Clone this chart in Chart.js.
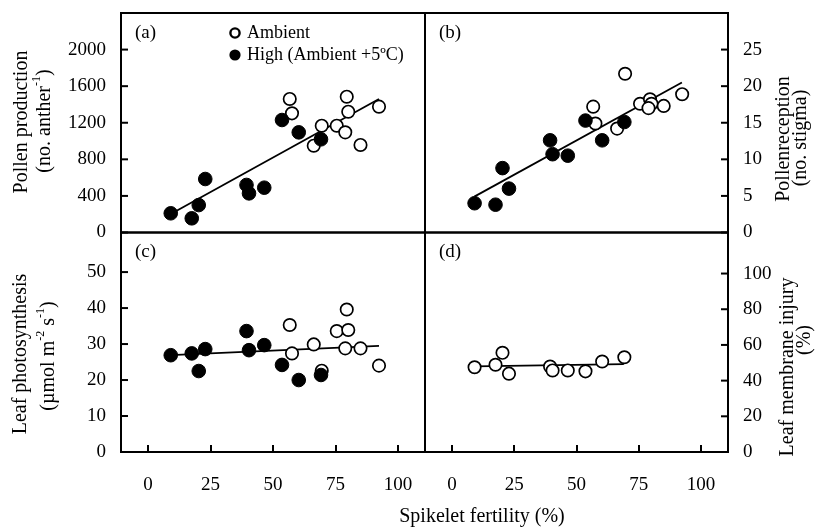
<!DOCTYPE html>
<html><head><meta charset="utf-8">
<script src="https://cdn.jsdelivr.net/npm/chart.js@4.4.1/dist/chart.umd.min.js"></script>
<style>
html,body{margin:0;padding:0;background:#fff;}
#wrap{position:relative;width:817px;height:528px;background:#fff;}
canvas{position:absolute;left:0;top:0;}
</style></head><body>
<div id="wrap">
<canvas id="ca" width="817" height="528"></canvas>
<canvas id="cb" width="817" height="528"></canvas>
<canvas id="cc" width="817" height="528"></canvas>
<canvas id="cd" width="817" height="528"></canvas>
</div>
<script>
// ---- data ----
const xTicks = [0, 25, 50, 75, 100];
const xHigh = [9.1, 17.5, 20.3, 22.9, 39.4, 40.4, 46.5, 53.6, 60.3, 69.2];
const xAmb  = [56.7, 57.6, 66.3, 69.5, 75.5, 79.5, 80.1, 78.9, 85.0, 92.4];

const pollenHigh = [210, 155, 300, 585, 520, 428, 490, 1230, 1095, 1019];
const pollenAmb  = [1460, 1303, 949, 1168, 1168, 1485, 1321, 1095, 957, 1376];
const yTicksA = [0, 400, 800, 1200, 1600, 2000];
const fitAx = [9.1, 92.4], fitAy = [202, 1460];

const receptHigh = [4.0, 3.8, 8.8, 6.0, 12.6, 10.7, 10.5, 15.3, 12.6, 15.1];
const receptAmb  = [17.2, 14.9, 14.2, 21.7, 17.6, 18.2, 17.6, 17.0, 17.3, 18.9];
const yTicksB = [0, 5, 10, 15, 20, 25];
const fitBx = [9.0, 92.3], fitBy = [4.9, 20.5];

const photoHigh = [26.9, 27.4, 22.5, 28.6, 33.6, 28.3, 29.7, 24.2, 20.0, 21.4];
const photoAmb  = [35.3, 27.4, 29.9, 22.6, 33.6, 39.6, 33.9, 28.8, 28.8, 24.0];
const yTicksC = [0, 10, 20, 30, 40, 50];
const fitCx = [9.1, 92.4], fitCy = [26.9, 29.5];

const injury = [47.5, 48.9, 55.6, 43.9, 47.9, 45.7, 45.7, 45.2, 50.7, 53.1];
const yTicksD = [0, 20, 40, 60, 80, 100];
const fitDx = [9.0, 69.0], fitDy = [48.0, 49.2];

const labelAmb = 'Ambient';
const labelHigh = 'High (Ambient +5\u00BAC)';

// ---- helpers ----
const FONT = "'Liberation Serif','Times New Roman',serif";
const pts = (xs, ys) => xs.map((x, i) => ({x: x, y: ys[i]}));

function highDs(xs, ys) {
  return {label: labelHigh, data: pts(xs, ys), pointStyle: 'circle', pointRadius: 6.8,
    backgroundColor: '#000', borderColor: '#000', borderWidth: 1, showLine: false};
}
function ambDs(xs, ys) {
  return {label: labelAmb, data: pts(xs, ys), pointStyle: 'circle', pointRadius: 6.2,
    backgroundColor: '#fff', borderColor: '#000', borderWidth: 1.7, showLine: false};
}
function fitDs(xs, ys) {
  return {label: 'fit', data: pts(xs, ys), showLine: true, pointRadius: 0,
    borderColor: '#000', borderWidth: 1.8, fill: false};
}

function zeroPad(s) { s.paddingTop = 0; s.paddingBottom = 0; s.paddingLeft = 0; s.paddingRight = 0; }

const framePlugin = {
  id: 'frame',
  afterDraw(chart, args, opts) {
    const ctx = chart.ctx, a = chart.chartArea;
    ctx.save();
    ctx.strokeStyle = '#000';
    ctx.lineWidth = 2;
    ctx.lineCap = 'butt';
    ctx.strokeRect(a.left, a.top, a.right - a.left, a.bottom - a.top);
    if (opts.xTicks) {
      const sx = chart.scales.x;
      xTicks.forEach(v => {
        const p = Math.round(sx.getPixelForValue(v));
        ctx.beginPath(); ctx.moveTo(p, a.bottom); ctx.lineTo(p, a.bottom - 7); ctx.stroke();
      });
    }
    const sy = chart.scales.y;
    (opts.yTicks || []).forEach(v => {
      const p = sy.getPixelForValue(v);
      ctx.beginPath();
      if (opts.side === 'left') { ctx.moveTo(a.left, p); ctx.lineTo(a.left + 7, p); }
      else { ctx.moveTo(a.right, p); ctx.lineTo(a.right - 7, p); }
      ctx.stroke();
    });
    // panel letter
    ctx.fillStyle = '#000';
    ctx.font = '19px ' + FONT;
    ctx.textAlign = 'left';
    ctx.textBaseline = 'middle';
    ctx.fillText(opts.letter, a.left + 14, a.top + 20);
    // legend
    if (opts.legend) {
      const ds = chart.data.datasets;
      const lx = 235, ly = [33, 55];
      ctx.font = '18px ' + FONT;
      ctx.beginPath(); ctx.arc(lx, ly[0], 4.6, 0, Math.PI * 2);
      ctx.fillStyle = '#fff'; ctx.fill(); ctx.lineWidth = 2.4; ctx.stroke();
      ctx.fillStyle = '#000';
      ctx.fillText(ds[1].label, lx + 12, ly[0]);
      ctx.beginPath(); ctx.arc(lx, ly[1], 5.6, 0, Math.PI * 2); ctx.fill();
      ctx.fillText(ds[0].label, lx + 12, ly[1]);
    }
    (opts.titles || []).forEach(t => drawRotated(ctx, t.parts, t.x, t.y, 20));
    if (opts.xTitle) {
      ctx.font = '20px ' + FONT;
      ctx.textAlign = 'center';
      ctx.textBaseline = 'middle';
      ctx.fillText(opts.xTitle.text, opts.xTitle.x, opts.xTitle.y);
    }
    ctx.restore();
  }
};

function drawRotated(ctx, parts, cx, cy, size) {
  ctx.save();
  ctx.translate(cx, cy);
  ctx.rotate(-Math.PI / 2);
  ctx.textBaseline = 'middle';
  ctx.textAlign = 'left';
  ctx.fillStyle = '#000';
  let total = 0;
  const widths = parts.map(p => {
    ctx.font = (p.sup ? Math.round(size * 0.62) : size) + 'px ' + FONT;
    const w = ctx.measureText(p.t).width; total += w; return w;
  });
  let x = -total / 2;
  parts.forEach((p, i) => {
    ctx.font = (p.sup ? Math.round(size * 0.62) : size) + 'px ' + FONT;
    ctx.fillText(p.t, x, p.sup ? -size * 0.42 : 0);
    x += widths[i];
  });
  ctx.restore();
}

function makePanel(id, cfg) {
  return new Chart(document.getElementById(id), {
    type: 'scatter',
    data: {datasets: cfg.datasets},
    options: {
      responsive: false, animation: false, events: [],
      layout: {padding: cfg.pad},
      plugins: {legend: {display: false}, tooltip: {enabled: false}, frame: cfg.frame},
      scales: {
        x: {
          type: 'linear', position: 'bottom', min: -10.8, max: 110.8,
          afterFit: s => { s.height = cfg.xH; zeroPad(s); },
          afterBuildTicks: s => { s.ticks = xTicks.map(v => ({value: v})); },
          grid: {display: false, drawTicks: false}, border: {display: false},
          ticks: {display: cfg.xLabels, color: '#000', padding: 22, maxRotation: 0, autoSkip: false,
            font: {family: FONT, size: 19}, callback: v => String(v)}
        },
        y: {
          type: 'linear', position: cfg.yPos, min: 0, max: cfg.yMax,
          afterFit: s => { s.width = cfg.yW; zeroPad(s); },
          afterBuildTicks: s => { s.ticks = cfg.yTicks.map(v => ({value: v})); },
          grid: {display: false, drawTicks: false}, border: {display: false},
          ticks: {color: '#000', padding: 15, autoSkip: false, font: {family: FONT, size: 19},
            callback: v => String(v)}
        }
      }
    },
    plugins: [framePlugin]
  });
}

makePanel('ca', {
  datasets: [highDs(xHigh, pollenHigh), ambDs(xAmb, pollenAmb), fitDs(fitAx, fitAy)],
  pad: {left: 0, top: 13, right: 392, bottom: 295.5}, yW: 121, xH: 0,
  yPos: 'left', yMax: 2400, yTicks: yTicksA, xLabels: false,
  frame: {letter: '(a)', side: 'left', yTicks: yTicksA, legend: true,
    titles: [
      {x: 22, y: 122, parts: [{t: 'Pollen production'}]},
      {x: 45, y: 121, parts: [{t: '(no. anther'}, {t: '-1', sup: true}, {t: ')'}]}
    ]}
});
makePanel('cb', {
  datasets: [highDs(xHigh, receptHigh), ambDs(xAmb, receptAmb), fitDs(fitBx, fitBy)],
  pad: {left: 425, top: 13, right: 0, bottom: 295.5}, yW: 89, xH: 0,
  yPos: 'right', yMax: 30, yTicks: yTicksB, xLabels: false,
  frame: {letter: '(b)', side: 'right', yTicks: yTicksB,
    titles: [
      {x: 784, y: 139, parts: [{t: 'Pollenreception'}]},
      {x: 801, y: 138, parts: [{t: '(no. stigma)'}]}
    ]}
});
makePanel('cc', {
  datasets: [highDs(xHigh, photoHigh), ambDs(xAmb, photoAmb), fitDs(fitCx, fitCy)],
  pad: {left: 0, top: 232.5, right: 392, bottom: 0}, yW: 121, xH: 76,
  yPos: 'left', yMax: 61, yTicks: yTicksC, xLabels: true,
  frame: {letter: '(c)', side: 'left', yTicks: yTicksC, xTicks: true,
    titles: [
      {x: 21, y: 354, parts: [{t: 'Leaf photosynthesis'}]},
      {x: 49, y: 356, parts: [{t: '(\u00B5mol m'}, {t: '-2', sup: true}, {t: ' s'}, {t: '-1', sup: true}, {t: ')'}]}
    ],
    xTitle: {text: 'Spikelet fertility (%)', x: 482, y: 517}}
});
makePanel('cd', {
  datasets: [ambDs(xHigh, injury), fitDs(fitDx, fitDy)],
  pad: {left: 425, top: 232.5, right: 0, bottom: 0}, yW: 89, xH: 76,
  yPos: 'right', yMax: 123, yTicks: yTicksD, xLabels: true,
  frame: {letter: '(d)', side: 'right', yTicks: yTicksD, xTicks: true,
    titles: [
      {x: 788, y: 367, parts: [{t: 'Leaf membrane injury'}]},
      {x: 805, y: 340, parts: [{t: '(%)'}]}
    ]}
});
</script>
</body></html>
